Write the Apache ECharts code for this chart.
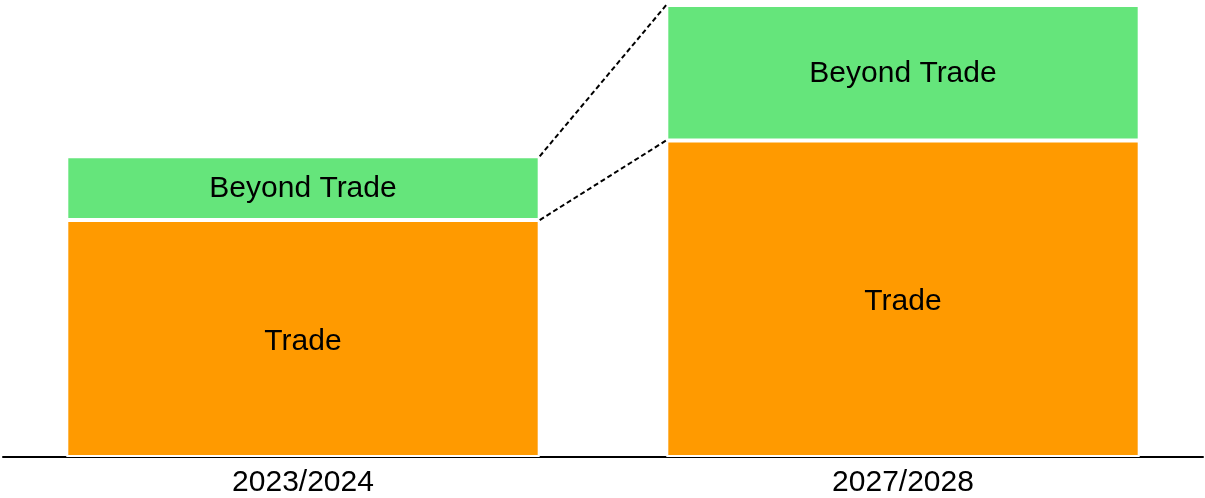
<!DOCTYPE html>
<html>
<head>
<meta charset="utf-8">
<script src="https://cdn.jsdelivr.net/npm/echarts@6/dist/echarts.min.js"></script>
<style>
  html, body { margin: 0; padding: 0; background: #fff; }
  #chart { width: 1205px; height: 498px; }
</style>
</head>
<body>
<div id="chart"></div>
<script>
// data (arbitrary units, same scale for both bars)
var categories = ['2023/2024', '2027/2028'];
var tradeValues = [238, 318];
var beyondValues = [64, 136];

var BAR_RATIO = 0.789;

var chart = echarts.init(document.getElementById('chart'), null, { renderer: 'canvas' });

// cumulative tops used for the dashed connector lines
var tradeTops = tradeValues.slice();
var totalTops = tradeValues.map(function (v, i) { return v + beyondValues[i]; });

function renderConnectors(params, api) {
  var halfW = api.size([1, 0])[0] * BAR_RATIO / 2;
  var lines = [];
  [tradeTops, totalTops].forEach(function (tops) {
    var a = api.coord([0, tops[0]]);
    var b = api.coord([1, tops[1]]);
    lines.push({
      type: 'line',
      shape: { x1: a[0] + halfW, y1: a[1], x2: b[0] - halfW, y2: b[1] },
      style: { stroke: '#000', lineWidth: 2, lineDash: [5, 3] }
    });
  });
  return { type: 'group', children: lines };
}

var FONT = 'Liberation Sans, Arial, sans-serif';

var labelStyle = {
  show: true,
  position: 'inside',
  color: '#000',
  fontSize: 30,
  fontFamily: FONT
};

chart.setOption({
  animation: false,
  grid: { left: 3, right: 2, top: 4, bottom: 39 },
  xAxis: {
    type: 'category',
    data: categories,
    axisLine: { lineStyle: { color: '#000', width: 2 } },
    axisTick: { show: false },
    axisLabel: {
      color: '#000',
      fontSize: 30,
      margin: 11,
      fontFamily: FONT
    }
  },
  yAxis: {
    type: 'value',
    min: 0,
    max: 455,
    show: false,
    splitLine: { show: false }
  },
  series: [
    {
      name: 'Trade',
      type: 'bar',
      stack: 'total',
      barWidth: (BAR_RATIO * 100) + '%',
      data: tradeValues,
      itemStyle: { color: '#ff9a00', borderColor: '#fff', borderWidth: 2 },
      label: Object.assign({}, labelStyle, { formatter: 'Trade', offset: [0, 3] })
    },
    {
      name: 'Beyond Trade',
      type: 'bar',
      stack: 'total',
      barWidth: (BAR_RATIO * 100) + '%',
      data: beyondValues,
      itemStyle: { color: '#65e57b', borderColor: '#fff', borderWidth: 2 },
      label: Object.assign({}, labelStyle, { formatter: 'Beyond Trade', offset: [0, 1] })
    },
    {
      type: 'custom',
      renderItem: renderConnectors,
      data: [0],
      silent: true,
      z: 5
    }
  ]
});
</script>
</body>
</html>
